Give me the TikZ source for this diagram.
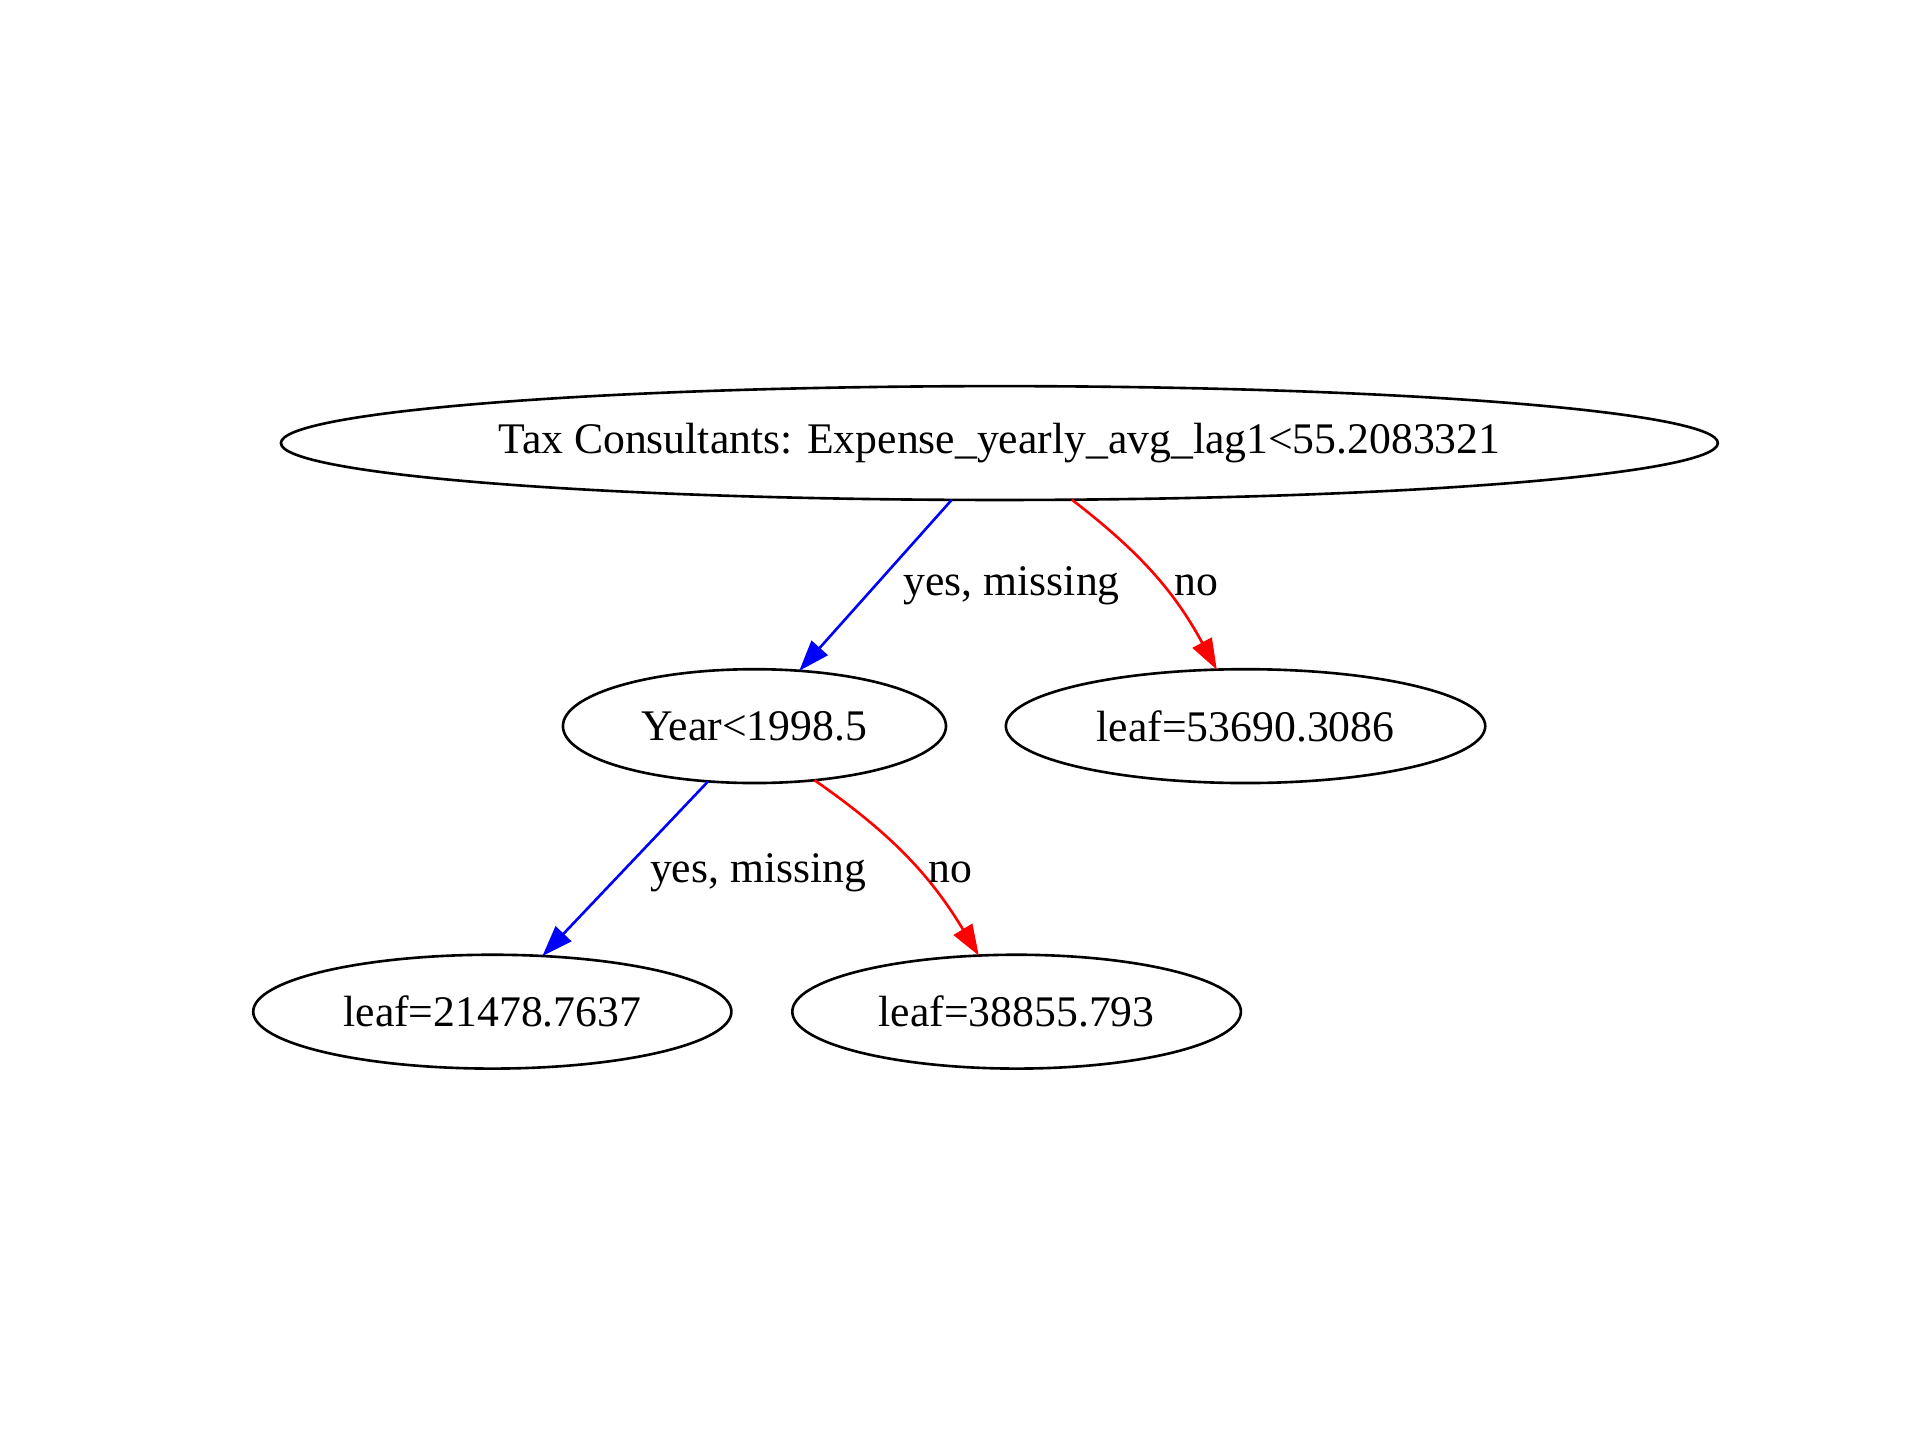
\documentclass[tikz,border=0pt]{standalone}
\usepackage{fontspec}
\setmainfont{Liberation Serif}
\usetikzlibrary{shapes.geometric,arrows.meta}

\begin{document}
\begin{tikzpicture}[x=0.4pt,y=0.4pt,
    split/.style={draw,ellipse,line width=0.85pt,inner sep=0pt,outer sep=0pt,minimum height=37pt},
    yesedge/.style={blue,line width=0.85pt,-{Triangle[length=10pt,width=7pt]}},
    noedge/.style={red,line width=0.85pt,-{Triangle[length=10pt,width=7pt]}},
    every node/.style={font=\fontsize{14.2}{17}\selectfont}]
    \useasboundingbox (0,0) rectangle (1560,1170);

    \node[split,minimum width=467pt] (root) at (812,810) {Tax Consultants: Expense\_yearly\_avg\_lag1<55.2083321};

    \node[split,minimum width=124.5pt] (year) at (613,580) {Year<1998.5};
    \node[split,minimum width=155.8pt] (leafc) at (1012,580) {leaf=53690.3086};

    \node[split,minimum width=155.4pt] (leafa) at (400,348) {leaf=21478.7637};
    \node[split,minimum width=145.8pt] (leafb) at (826,348) {leaf=38855.793};

    \draw[yesedge] (root.230.2) -- (year.51);
    \draw[noedge] (root.-38.7) to[bend left=12] (leafc.117);
    \draw[yesedge] (year.-130.4) -- (leafa.48.2);
    \draw[noedge] (year.-42.1) to[bend left=12] (leafb.124.2);

    \node (ya) at (822,694) {yes, missing};
    \node (na) at (972,694) {no};
    \node (yb) at (616,461) {yes, missing};
    \node (nb) at (772,461) {no};
  \end{tikzpicture}
\end{document}
